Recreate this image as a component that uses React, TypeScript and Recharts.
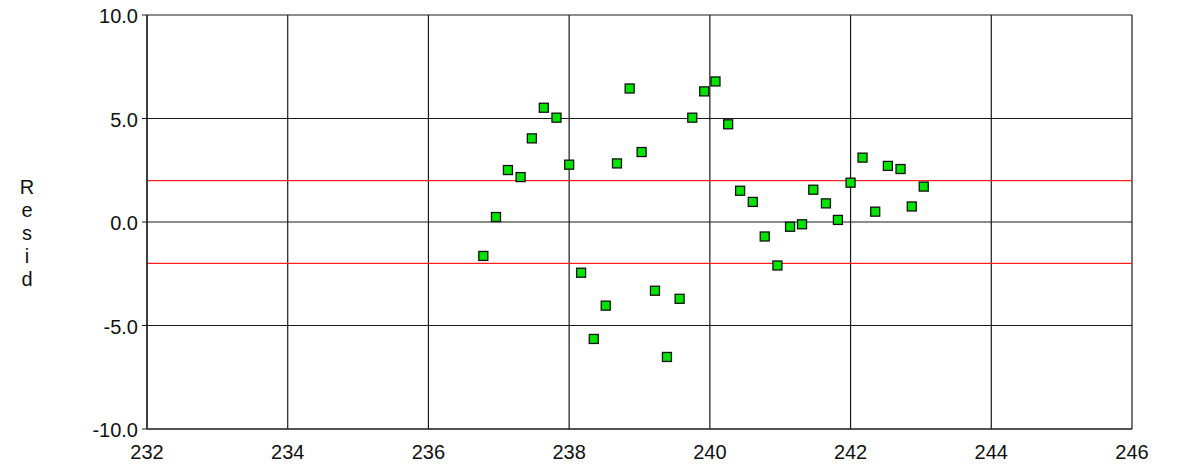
import React from "react";
import {
  ScatterChart,
  Scatter,
  XAxis,
  YAxis,
  CartesianGrid,
  ReferenceLine,
} from "recharts";

const xValues = [
  236.78, 236.96, 237.13, 237.31, 237.47, 237.64, 237.82, 238.0, 238.17, 238.35,
  238.52, 238.68, 238.86, 239.03, 239.22, 239.39, 239.57, 239.75, 239.92, 240.08,
  240.26, 240.43, 240.61, 240.78, 240.96, 241.14, 241.31, 241.47, 241.65, 241.82,
  242.0, 242.17, 242.35, 242.53, 242.71, 242.87, 243.04,
];
const residuals = [
  -1.64, 0.24, 2.51, 2.17, 4.04, 5.52, 5.04, 2.77, -2.45, -5.65,
  -4.04, 2.83, 6.45, 3.38, -3.32, -6.52, -3.71, 5.04, 6.31, 6.79,
  4.72, 1.51, 0.97, -0.7, -2.1, -0.23, -0.11, 1.56, 0.9, 0.1,
  1.9, 3.11, 0.5, 2.71, 2.56, 0.75, 1.71,
];
const xTicks = [232, 234, 236, 238, 240, 242, 244, 246];
const yTicks = [-10, -5, 0, 5, 10];
const limitLines = [2, -2];
const yLabel = "Resid";

const data = xValues.map((x, i) => ({ x, y: residuals[i] }));

const FONT = "'Liberation Sans', Arial, sans-serif";

const SquareMarker = (props: any) => {
  const { cx, cy } = props;
  if (cx == null || cy == null) return null;
  const s = 9;
  return (
    <rect
      x={cx - s / 2}
      y={cy - s / 2}
      width={s}
      height={s}
      fill="#00e400"
      stroke="#111"
      strokeWidth={1.3}
    />
  );
};

const VerticalLabel = (props: any) => {
  const vb = props.viewBox || {};
  const cy = (vb.y ?? 0) + (vb.height ?? 0) / 2;
  const letters = yLabel.split("");
  const spacing = 23;
  const startY = cy - 28;
  return (
    <text
      x={27}
      y={startY}
      textAnchor="middle"
      fontFamily={FONT}
      fontSize={20}
      fill="#111"
    >
      {letters.map((ch, i) => (
        <tspan key={i} x={27} y={startY + i * spacing}>
          {ch}
        </tspan>
      ))}
    </text>
  );
};

export default function App() {
  return (
    <div
      style={{
        position: "absolute",
        left: 0,
        top: 0,
        width: 1178,
        height: 465,
        overflow: "hidden",
      }}
    >
      <ScatterChart
        width={1178}
        height={465}
        margin={{ top: 15, right: 46, bottom: 0, left: 0 }}
      >
        <CartesianGrid stroke="#1a1a1a" strokeWidth={1.2} />
        <XAxis
          type="number"
          dataKey="x"
          domain={[232, 246]}
          ticks={xTicks}
          interval={0}
          tickLine={false}
          axisLine={{ stroke: "#1a1a1a", strokeWidth: 1.2 }}
          height={36}
          tick={{ fill: "#111", fontSize: 20, fontFamily: FONT, dy: 8 }}
          allowDataOverflow
        />
        <YAxis
          type="number"
          dataKey="y"
          domain={[-10, 10]}
          ticks={yTicks}
          interval={0}
          width={147}
          tickSize={5}
          tickLine={{ stroke: "#1a1a1a" }}
          axisLine={{ stroke: "#1a1a1a", strokeWidth: 1.2 }}
          tickFormatter={(v: number) => v.toFixed(1)}
          tick={{ fill: "#111", fontSize: 20, fontFamily: FONT, dx: -2, dy: 1 }}
          label={{ content: <VerticalLabel /> }}
          allowDataOverflow
        />
        {limitLines.map((v) => (
          <ReferenceLine key={v} y={v} stroke="#ff2020" strokeWidth={1.2} />
        ))}
        <Scatter
          data={data}
          shape={<SquareMarker />}
          isAnimationActive={false}
        />
      </ScatterChart>
    </div>
  );
}
